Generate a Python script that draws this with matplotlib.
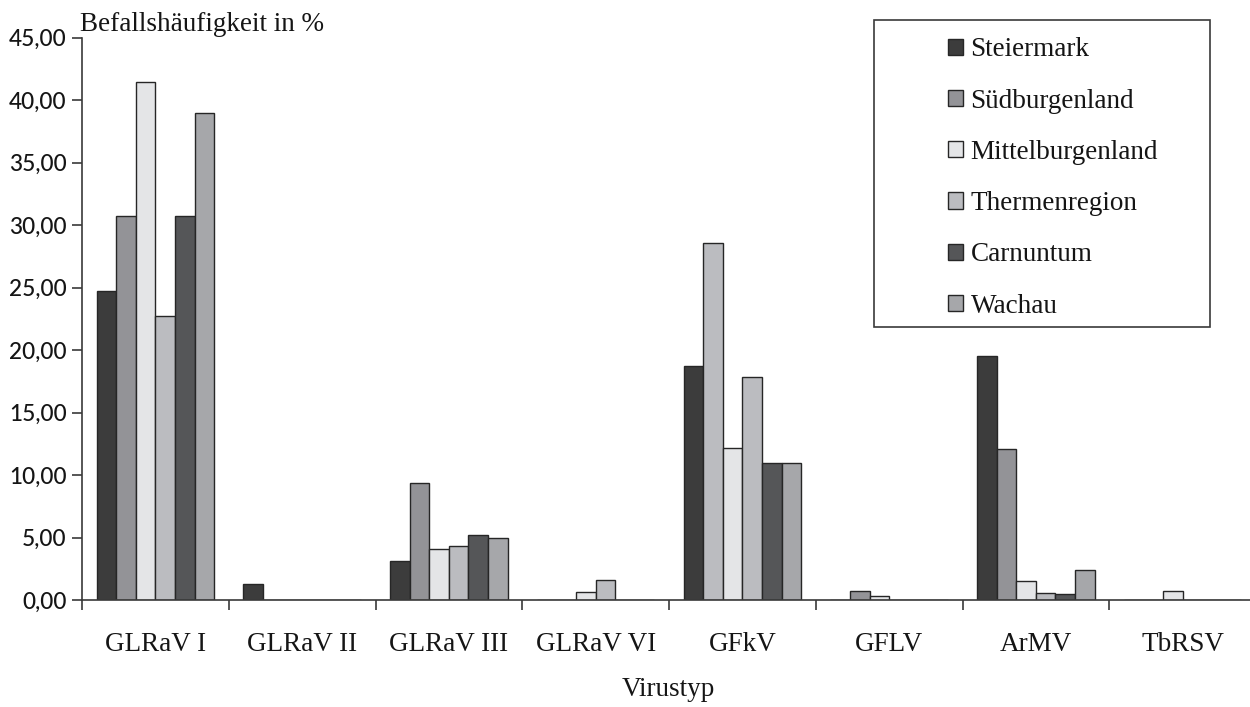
import numpy as np
import matplotlib
matplotlib.use("Agg")
import matplotlib.pyplot as plt
from matplotlib.patches import Rectangle
from matplotlib.ticker import FixedLocator, FuncFormatter

categories = ["GLRaV I", "GLRaV II", "GLRaV III", "GLRaV VI", "GFkV", "GFLV", "ArMV", "TbRSV"]
regions = ["Steiermark", "Südburgenland", "Mittelburgenland", "Thermenregion", "Carnuntum", "Wachau"]

steiermark       = [24.75, 1.31, 3.14, 0.00, 18.72, 0.00, 19.50, 0.00]
suedburgenland   = [30.72, 0.00, 9.35, 0.00, 28.58, 0.72, 12.12, 0.00]
mittelburgenland = [41.49, 0.00, 4.05, 0.66, 12.18, 0.30, 1.50, 0.72]
thermenregion    = [22.71, 0.00, 4.29, 1.57, 17.81, 0.00, 0.60, 0.00]
carnuntum        = [30.71, 0.00, 5.19, 0.00, 10.98, 0.00, 0.51, 0.00]
wachau           = [39.00, 0.00, 5.00, 0.00, 10.98, 0.00, 2.43, 0.00]

series = [steiermark, suedburgenland, mittelburgenland, thermenregion, carnuntum, wachau]
colors = ["#3c3c3c", "#939397", "#e4e5e7", "#bbbcc0", "#555658", "#a6a7aa"]

W, H = 1250, 707
fig = plt.figure(figsize=(W / 100, H / 100), dpi=100)
ax = fig.add_axes([82 / W, (H - 600) / H, 1174 / W, 562.3 / H])

serif = ["Liberation Serif", "DejaVu Serif"]
sans = ["Lato", "DejaVu Sans"]
txt = "#151515"
fs = 19.5

n = len(series)
gw = 0.8
bw = gw / n
x = np.arange(len(categories))
edge = "#262626"
for i, (vals, c, name) in enumerate(zip(series, colors, regions)):
    pos = x - gw / 2 + bw * (i + 0.5)
    bars = ax.bar(pos, vals, width=bw, color=c, edgecolor=edge, linewidth=1.0, label=name, zorder=2)
    if name == "Südburgenland":
        # in the reference the GFkV bar of this series is drawn in the lighter grey
        bars[categories.index("GFkV")].set_facecolor("#bbbcc0")

ax.set_xlim(-0.5, len(categories) - 0.5)
ax.set_ylim(0, 45)

for s in ["top", "right"]:
    ax.spines[s].set_visible(False)
for s in ["left", "bottom"]:
    ax.spines[s].set_color("#3a3a3a")
    ax.spines[s].set_linewidth(1.2)
ax.spines["bottom"].set_zorder(3)

ax.set_yticks(np.arange(0, 46, 5))
ax.yaxis.set_major_formatter(FuncFormatter(lambda v, p: f"{v:.2f}".replace(".", ",")))
ax.tick_params(axis="y", direction="out", length=7, width=1.2, color="#3a3a3a",
               labelsize=16.3, pad=4, labelcolor=txt)
for lab in ax.get_yticklabels():
    lab.set_family(sans)
    lab.set_fontweight("medium")

ax.set_xticks(x)
ax.set_xticklabels(categories, family=serif, fontsize=fs, color=txt)
ax.tick_params(axis="x", which="major", length=0, pad=23)
ax.xaxis.set_minor_locator(FixedLocator(np.arange(-0.5, len(categories) - 0.4, 1.0)))
ax.tick_params(axis="x", which="minor", direction="out", length=7, width=1.2, color="#3a3a3a")

fig.text(80 / W, 1 - 31 / H, "Befallshäufigkeit in %", family=serif, fontsize=fs,
         ha="left", va="baseline", color=txt)
fig.text(668 / W, 1 - 689 / H, "Virustyp", family=serif, fontsize=fs,
         ha="center", va="center", color=txt)

# legend frame
fig.patches.append(Rectangle((874 / W, 1 - 327 / H), (1210 - 874) / W, (327 - 20) / H,
                             transform=fig.transFigure, fill=False, edgecolor="#3a3a3a",
                             linewidth=1.2, zorder=5))
leg = ax.legend(loc="center left", bbox_to_anchor=(948 / W, 1 - 178 / H),
                bbox_transform=fig.transFigure, frameon=False,
                prop={"family": serif, "size": fs}, handlelength=0.55, handleheight=0.55,
                handletextpad=0.28, labelspacing=0.97, borderpad=0, borderaxespad=0)
for t in leg.get_texts():
    t.set_color(txt)

fig.savefig("out.png", dpi=100)
